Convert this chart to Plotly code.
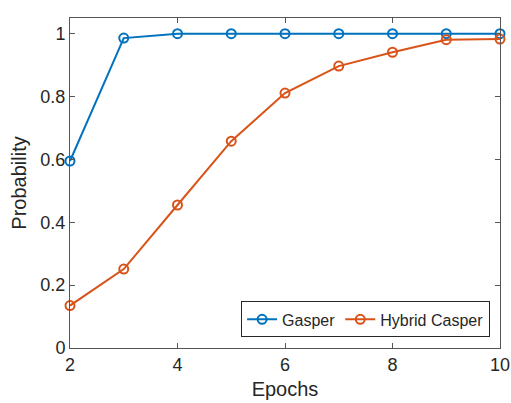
import plotly.graph_objects as go

epochs = [2, 3, 4, 5, 6, 7, 8, 9, 10]
gasper = [0.595, 0.986, 1.0, 1.0, 1.0, 1.0, 1.0, 1.0, 1.0]
hybrid_casper = [0.135, 0.251, 0.455, 0.658, 0.811, 0.897, 0.941, 0.981, 0.983]

x_ticks = [2, 4, 6, 8, 10]
y_ticks = [0, 0.2, 0.4, 0.6, 0.8, 1]
y_tick_labels = ["0", "0.2", "0.4", "0.6", "0.8", "1"]

blue = "#0072BD"
orange = "#D95319"
axis_color = "#555555"
text_color = "#262626"
font = "Liberation Sans, Arial, sans-serif"

fig = go.Figure()
for name, vals, col in [("Gasper", gasper, blue), ("Hybrid Casper", hybrid_casper, orange)]:
    fig.add_trace(go.Scatter(
        x=epochs, y=vals, name=name, mode="lines+markers",
        line=dict(color=col, width=2),
        marker=dict(symbol="circle-open", size=9, color=col, line=dict(width=2, color=col)),
        cliponaxis=False,
    ))

axis_common = dict(
    showline=True, linecolor=axis_color, linewidth=1, mirror="ticks",
    ticks="inside", ticklen=5, tickcolor=axis_color, tickwidth=1,
    showgrid=False, zeroline=False, automargin=False,
    tickfont=dict(family=font, size=18, color=text_color),
)

fig.update_layout(
    width=511, height=403,
    margin=dict(l=70, r=11, t=18, b=55, autoexpand=False),
    paper_bgcolor="white", plot_bgcolor="white",
    font=dict(family=font, color=text_color),
    xaxis=dict(range=[2, 10], tickvals=x_ticks,
               title=dict(text="Epochs", font=dict(family=font, size=20, color=text_color), standoff=8),
               **axis_common),
    yaxis=dict(range=[0, 1.05], tickvals=y_ticks, ticktext=y_tick_labels,
               title=dict(text="Probability", font=dict(family=font, size=20, color=text_color), standoff=8),
               **axis_common),
    legend=dict(
        orientation="h", x=0.977, y=0.032, xanchor="right", yanchor="bottom",
        bgcolor="white", bordercolor=text_color, borderwidth=1,
        font=dict(family=font, size=16, color=text_color),
        itemwidth=30, tracegroupgap=0,
    ),
    showlegend=True,
)

fig.write_html("out.html")
